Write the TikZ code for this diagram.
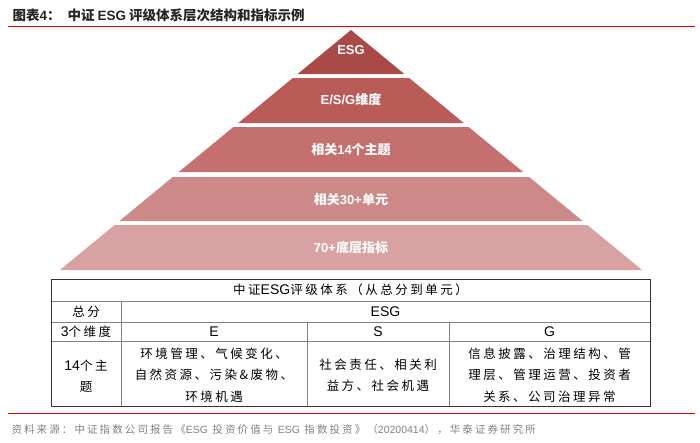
\documentclass[tikz,border=0pt]{standalone}
\usepackage{fontspec}
\setmainfont{Noto Sans CJK SC}
\newfontfamily\enf{Liberation Sans}
\newfontfamily\cjksp[LetterSpace=20]{Noto Sans CJK SC}
\newcommand{\Lat}[1]{{\enf #1}}
\newcommand{\TLat}[1]{{\enf\fontsize{14}{21.5}\selectfont #1}}
\usetikzlibrary{positioning}

\definecolor{layA}{HTML}{AA4A47}
\definecolor{layB}{HTML}{B95B57}
\definecolor{layC}{HTML}{C3706E}
\definecolor{layD}{HTML}{CC8988}
\definecolor{layE}{HTML}{D8A1A2}
\definecolor{rule}{HTML}{E00000}

\begin{document}
\begin{tikzpicture}[
  x=1pt, y=-1pt,
  lbl/.style={text=white, font=\bfseries\fontsize{13}{15}\selectfont, inner sep=0pt},
  cell/.style={font=\cjksp\fontsize{12.5}{21.5}\selectfont, align=center, inner sep=0pt},
  grid/.style={draw=black!50, line width=0.6pt},
  frame/.style={draw=black!80, line width=0.9pt},
  redline/.style={draw=rule, line width=1pt}]
  \useasboundingbox (0,0) rectangle (700,442);
  % title
  \node[anchor=west, font=\bfseries\fontsize{13.5}{15}\selectfont, text=black!85] (title) at (9,15)
    {图表\Lat{4}：\hspace{7pt}中证 \Lat{ESG} 评级体系层次结构和指标示例};
  \draw[redline] (8,26) -- (695,26);
  % pyramid
  \foreach \t/\b/\y/\c/\n/\txt in {30/74/50/layA/esg/{\Lat{ESG}},
      78/123/100/layB/dims/{\Lat{E/S/G}维度},
      127/172/150/layC/topics/{相关\Lat{14}个主题},
      177/221/200/layD/units/{相关\Lat{30+}单元},
      225/270/248/layE/inds/{\Lat{70+}底层指标}}{
    \fill[\c] ({351-1.2125*(\t-30)},\t) -- ({351+1.2125*(\t-30)},\t)
      -- ({351+1.2125*(\b-30)},\b) -- ({351-1.2125*(\b-30)},\b) -- cycle;
    \node[lbl] (\n) at (351,\y) {\txt};
  }
  % table
  \draw[grid] (51,301) -- (650,301) (51,322) -- (650,322) (51,341) -- (650,341);
  \draw[grid] (121,301) -- (121,406) (307,322) -- (307,406) (449,322) -- (449,406);
  \draw[frame] (51,279) rectangle (650,406);
  \node[cell] (hdr) at (350.5,290) {中证\TLat{ESG}评级体系（从总分到单元）};
  \node[cell] (zf) at (86,311.5) {总分};
  \node[cell] (all) at (385.5,311.5) {\TLat{ESG}};
  \node[cell] (wd) at (86,331.5) {\TLat{3}个维度};
  \node[cell] (ce) at (214,331.5) {\TLat{E}};
  \node[cell] (cs) at (378,331.5) {\TLat{S}};
  \node[cell] (cg) at (549.5,331.5) {\TLat{G}};
  \node[cell] (zt) at (86,376) {\TLat{14}个主\\题};
  \node[cell] (te) at (214,375) {环境管理、气候变化、\\自然资源、污染\&废物、\\环境机遇};
  \node[cell] (ts) at (378,375) {社会责任、相关利\\益方、社会机遇};
  \node[cell] (tg) at (549.5,375) {信息披露、治理结构、管\\理层、管理运营、投资者\\关系、公司治理异常};
  % source
  \draw[redline] (8,413) -- (695,413);
  \node[anchor=west, text=black!50, font=\cjksp\fontsize{10.5}{12}\selectfont] (src) at (8,430)
    {资料来源：中证指数公司报告《\Lat{ESG} 投资价值与 \Lat{ESG} 指数投资》（\Lat{20200414}），华泰证券研究所};
\end{tikzpicture}
\end{document}
